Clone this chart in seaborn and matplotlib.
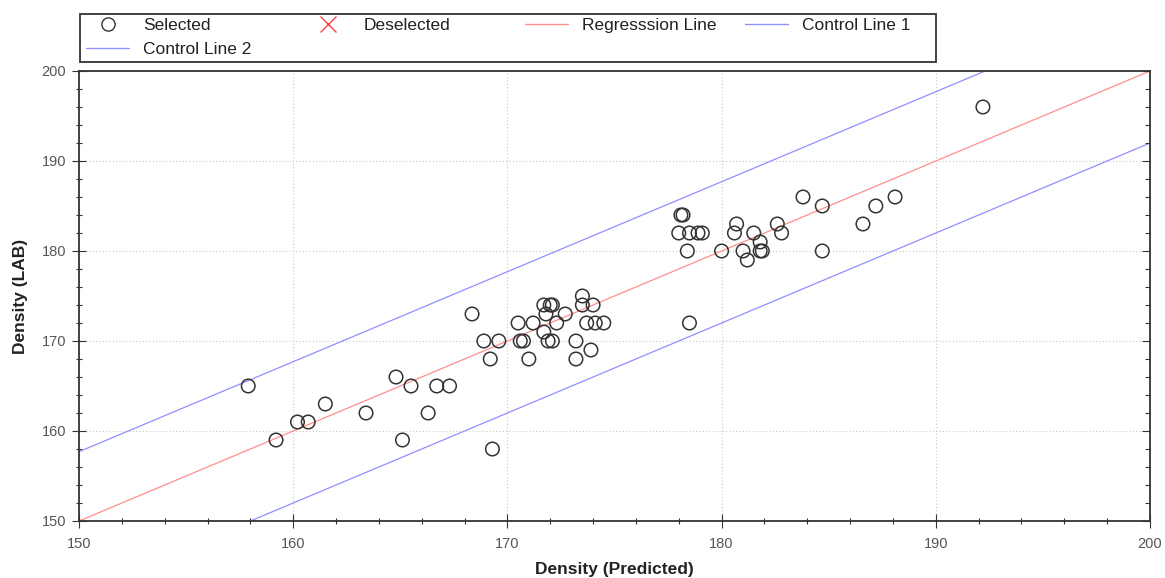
import numpy as np
import pandas as pd
import matplotlib
matplotlib.use("Agg")
import matplotlib.pyplot as plt
from matplotlib.lines import Line2D
from matplotlib.patches import Rectangle
from matplotlib.ticker import MultipleLocator
import seaborn as sns

# ---- data ----
pred = [157.9, 159.2, 160.2, 160.7, 161.5, 163.4, 164.8, 165.1, 165.5, 166.3,
        166.7, 167.3, 169.3,
        168.35, 168.9, 169.6, 169.2, 170.5, 171.2, 170.6, 170.75, 171.0,
        171.7, 172.0, 172.1, 171.8, 171.7, 172.3, 172.7, 171.9, 172.1,
        173.5, 173.5, 174.0, 173.7, 174.1, 174.5, 173.2, 173.2, 173.9,
        178.1, 178.2, 178.0, 178.5, 178.9, 179.1, 178.4, 180.0, 180.7, 180.6,
        181.0, 181.2, 181.5, 181.8, 181.8, 181.9, 182.6, 182.8, 183.8, 184.7,
        184.7, 186.6, 187.2, 188.1, 178.5, 192.2]
lab = [165, 159, 161, 161, 163, 162, 166, 159, 165, 162,
       165, 165, 158,
       173, 170, 170, 168, 172, 172, 170, 170, 168,
       174, 174, 174, 173, 171, 172, 173, 170, 170,
       175, 174, 174, 172, 172, 172, 170, 168, 169,
       184, 184, 182, 182, 182, 182, 180, 180, 183, 182,
       180, 179, 182, 181, 180, 180, 183, 182, 186, 185,
       180, 183, 185, 186, 172, 196]

line_x = [150, 200]
regression_y = [150, 200]
control1_y = [157.7, 207.7]
control2_y = [142.0, 192.0]

x_ticks = [150, 160, 170, 180, 190, 200]
y_ticks = [150, 160, 170, 180, 190, 200]

legend_labels = ["Selected", "Deselected", "Regresssion Line", "Control Line 1", "Control Line 2"]

RED = "#ff8f8f"
BLUE = "#8f8fff"

# ---- style ----
sns.set_style("white")
plt.rcParams['font.family'] = ['Liberation Sans', 'DejaVu Sans']

W, H = 1165, 578
fig = plt.figure(figsize=(W / 100, H / 100), dpi=100)
ax = fig.add_axes([79 / W, 1 - 521 / H, (1150 - 79) / W, (521 - 71) / H])

df = pd.DataFrame({"pred": pred, "lab": lab})
lines = pd.DataFrame({"x": line_x, "reg": regression_y, "c1": control1_y, "c2": control2_y})

sns.lineplot(data=lines, x="x", y="reg", ax=ax, color=RED, lw=0.9, zorder=2)
sns.lineplot(data=lines, x="x", y="c1", ax=ax, color=BLUE, lw=0.9, zorder=2)
sns.lineplot(data=lines, x="x", y="c2", ax=ax, color=BLUE, lw=0.9, zorder=2)
sns.scatterplot(data=df, x="pred", y="lab", ax=ax, s=95, facecolor="none",
                edgecolor="#333333", linewidth=1.1, zorder=3)

ax.set_xlim(150, 200)
ax.set_ylim(150, 200)
ax.set_xticks(x_ticks)
ax.set_yticks(y_ticks)
ax.xaxis.set_minor_locator(MultipleLocator(2))
ax.yaxis.set_minor_locator(MultipleLocator(2))
ax.grid(True, which="major", color="#c8c8c8", linestyle=(0, (1, 2)), linewidth=0.8, zorder=0)
ax.set_axisbelow(True)

for sp in ax.spines.values():
    sp.set_visible(True)
    sp.set_color("#333333")
    sp.set_linewidth(1.3)

ax.tick_params(axis="both", which="major", direction="inout", length=10.5, width=0.8,
               color="#333333", labelsize=10.5, labelcolor="#555555", pad=4,
               top=False, right=False, bottom=True, left=True)
ax.tick_params(axis="both", which="minor", direction="inout", length=5, width=0.8,
               color="#333333", top=False, right=False, bottom=True, left=True)
ax.tick_params(axis="x", which="major", pad=6)

# right-side inward ticks
ax_r = ax.twinx()
ax_r.set_ylim(150, 200)
ax_r.set_yticks(y_ticks)
ax_r.yaxis.set_minor_locator(MultipleLocator(2))
ax_r.tick_params(axis="y", which="major", direction="in", length=6, width=0.8,
                 color="#333333", labelright=False)
ax_r.tick_params(axis="y", which="minor", direction="in", length=3.5, width=0.8,
                 color="#333333", labelright=False)
ax_r.grid(False)
for sp in ax_r.spines.values():
    sp.set_visible(False)

ax.set_xlabel("Density (Predicted)", fontsize=12.5, fontweight="bold", color="#222222", labelpad=8)
ax.set_ylabel("Density (LAB)", fontsize=12.5, fontweight="bold", color="#222222", labelpad=10)

# ---- legend: fixed-pitch entries inside a square frame ----
handles = [
    Line2D([], [], marker="o", linestyle="none", markerfacecolor="none",
           markeredgecolor="#333333", markersize=9.5, markeredgewidth=1.0),
    Line2D([], [], marker="x", linestyle="none", color="#ff4040", markersize=11, markeredgewidth=1.0),
    Line2D([], [], color=RED, lw=1.0),
    Line2D([], [], color=BLUE, lw=1.0),
    Line2D([], [], color=BLUE, lw=1.0),
]
entry_pos = [(86, 25), (306.5, 25), (525, 25), (745, 25), (86, 49)]
fs = 12.5
fs_px = fs * 100 / 72
for h, lbl, (px, py) in zip(handles, legend_labels, entry_pos):
    lg = fig.legend([h], [lbl], loc="center left", bbox_to_anchor=(px / W, 1 - py / H),
                    frameon=False, fontsize=fs, borderpad=0, borderaxespad=0,
                    handlelength=43 / fs_px, handletextpad=14 / fs_px)
    for t in lg.get_texts():
        t.set_color("#222222")

frame = Rectangle((80 / W, 1 - 61.5 / H), (936 - 80) / W, (61.5 - 14) / H,
                  transform=fig.transFigure, fill=False, edgecolor="#333333",
                  linewidth=1.3, zorder=10)
fig.patches.append(frame)

fig.savefig("out.png", dpi=100)
